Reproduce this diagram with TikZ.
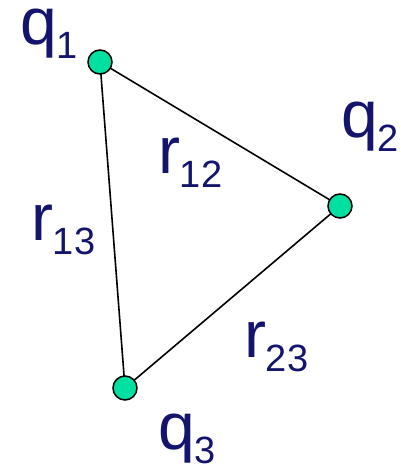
\documentclass[tikz,border=0pt]{standalone}
\usepackage{fontspec}
\setmainfont{Liberation Sans}
\definecolor{mint}{RGB}{0,224,160}
\definecolor{navy}{RGB}{20,20,110}
\newcommand{\lbl}[2]{\fontsize{66}{66}\selectfont #1\raisebox{-14pt}{\fontsize{38}{38}\selectfont #2}}
\begin{document}
\begin{tikzpicture}[x=1pt,y=-1pt,
  charge/.style={circle,draw=black,line width=1.5pt,fill=mint,minimum size=24pt,inner sep=0pt},
  link/.style={draw=black,line width=1.6pt},
  lab/.style={anchor=base west,inner sep=0pt,outer sep=0pt,text=navy}]
\useasboundingbox (0,0) rectangle (401,467);
\coordinate (c1) at (100,62);
\coordinate (c2) at (340,206);
\coordinate (c3) at (125,388);
\draw[link] (c1) -- (c2) -- (c3) -- cycle;
\node[charge] (q1) at (c1) {};
\node[charge] (q2) at (c2) {};
\node[charge] (q3) at (c3) {};
\node[lab] (t1) at (20,44) {\lbl{q}{1}};
\node[lab] (t2) at (341,137) {\lbl{q}{2}};
\node[lab] (t3) at (158,449) {\lbl{q}{3}};
\node[lab] (r12) at (158,173) {\lbl{r}{12}};
\node[lab] (r13) at (31,240) {\lbl{r}{13}};
\node[lab] (r23) at (244,357) {\lbl{r}{23}};
\end{tikzpicture}
\end{document}
